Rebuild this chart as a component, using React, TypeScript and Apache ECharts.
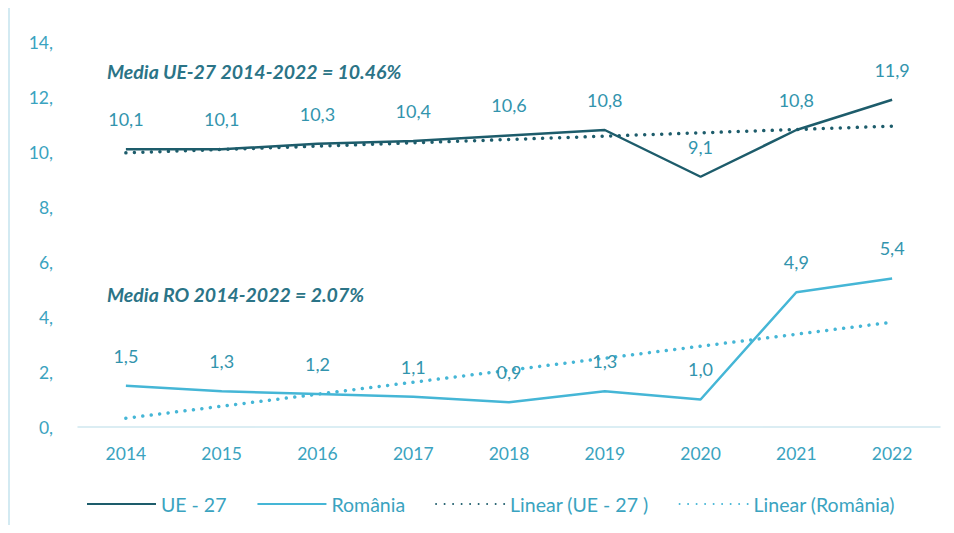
import React, { useEffect, useRef } from "react";
import * as echarts from "echarts";

const years = ["2014", "2015", "2016", "2017", "2018", "2019", "2020", "2021", "2022"];
const ue27 = [10.1, 10.1, 10.3, 10.4, 10.6, 10.8, 9.1, 10.8, 11.9];
const romania = [1.5, 1.3, 1.2, 1.1, 0.9, 1.3, 1.0, 4.9, 5.4];
// trend line end points: [category index, value]
const ueTrend = [[0, 9.97], [8, 10.94]];
const roTrend = [[0, 0.32], [8, 3.81]];
const yTicks = { min: 0, max: 14, interval: 2 };
const noteUE = "Media UE-27 2014-2022 = 10.46%";
const noteRO = "Media RO 2014-2022 = 2.07%";

const FONT = "Lato, 'Open Sans', sans-serif";
const DARK = "#1d5c6b";
const LIGHT = "#45b6d6";
const TXT = "#3aa3c0";
const LBL = "#3294ad";

export default function App() {
  const ref = useRef<HTMLDivElement>(null);
  useEffect(() => {
    if (!ref.current) return;
    const chart = echarts.init(ref.current, null, { renderer: "svg" });
    const fmt = (p: any) => String(Number(p.value).toFixed(1)).replace(".", ",");
    const dataLabel = {
      show: true,
      position: "top",
      distance: 21,
      color: LBL,
      fontSize: 18,
      fontFamily: FONT,
      formatter: fmt,
    };
    chart.setOption({
      animation: false,
      textStyle: { fontFamily: FONT },
      grid: { left: 78, right: 14, top: 42, bottom: 106 },
      xAxis: {
        type: "category",
        data: years,
        boundaryGap: true,
        axisLine: { lineStyle: { color: "#cfe8f0", width: 1.5 } },
        axisTick: { show: false },
        axisLabel: { color: TXT, fontSize: 17.5, margin: 17, fontFamily: FONT },
      },
      yAxis: {
        type: "value",
        min: yTicks.min,
        max: yTicks.max,
        interval: yTicks.interval,
        splitLine: { show: false },
        axisLine: { show: false },
        axisTick: { show: false },
        axisLabel: {
          color: TXT,
          fontSize: 17.5,
          margin: 25,
          fontFamily: FONT,
          formatter: (v: number) => v + ",",
        },
      },
      legend: {
        top: 489,
        left: 81,
        itemWidth: 69,
        itemHeight: 14,
        itemGap: 30,
        itemStyle: { opacity: 0 },
        textStyle: { color: TXT, fontSize: 19.5, fontFamily: FONT },
        data: ["UE - 27", "România", "Linear (UE - 27 )", "Linear (România)"],
      },
      graphic: [
        {
          type: "line",
          shape: { x1: 9, y1: 0, x2: 9, y2: 533 },
          style: { stroke: "#d3eaf2", lineWidth: 2 },
        },
        {
          type: "text",
          left: 107,
          top: 61,
          style: {
            text: noteUE,
            fill: "#2b7487",
            font: "italic bold 19.5px " + FONT,
          },
        },
        {
          type: "text",
          left: 107,
          top: 284,
          style: {
            text: noteRO,
            fill: "#2b7487",
            font: "italic bold 19.5px " + FONT,
          },
        },
      ],
      series: [
        {
          name: "Linear (UE - 27 )",
          type: "line",
          data: ueTrend,
          symbol: "none",
          lineStyle: { color: DARK, width: 3.5, type: [0.01, 8.5], cap: "round" },
          itemStyle: { color: DARK },
          z: 1,
        },
        {
          name: "Linear (România)",
          type: "line",
          data: roTrend,
          symbol: "none",
          lineStyle: { color: LIGHT, width: 3.5, type: [0.01, 8.5], cap: "round" },
          itemStyle: { color: LIGHT },
          z: 1,
        },
        {
          name: "UE - 27",
          type: "line",
          data: ue27,
          symbol: "circle",
          symbolSize: 0.01,
          showSymbol: true,
          lineStyle: { color: DARK, width: 2.5 },
          itemStyle: { color: DARK },
          label: dataLabel,
          z: 3,
        },
        {
          name: "România",
          type: "line",
          data: romania,
          symbol: "circle",
          symbolSize: 0.01,
          showSymbol: true,
          lineStyle: { color: LIGHT, width: 2.5 },
          itemStyle: { color: LIGHT },
          label: dataLabel,
          z: 3,
        },
      ],
    });
    return () => chart.dispose();
  }, []);
  return <div ref={ref} style={{ width: 954, height: 533, margin: -8 }} />;
}
